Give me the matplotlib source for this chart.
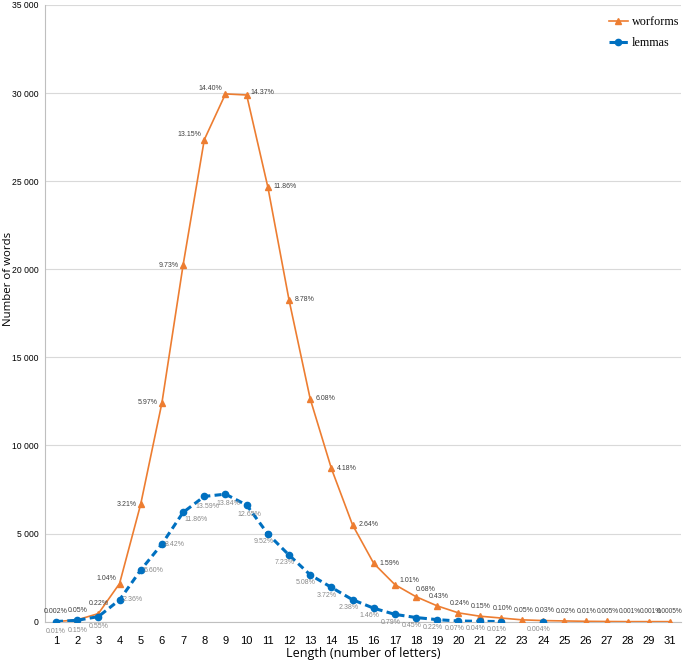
import numpy as np
import matplotlib
matplotlib.use('Agg')
from matplotlib import pyplot as plt
from matplotlib import font_manager

# Word length categories (no 30 in the source)
lengths = ['1', '2', '3', '4', '5', '6', '7', '8', '9', '10', '11', '12', '13', '14', '15',
           '16', '17', '18', '19', '20', '21', '22', '23', '24', '25', '26', '27', '28', '29', '31']

# Wordforms counts and their shares
wordforms = [4, 104, 458, 2163, 6677, 12418, 20238, 27352, 29952, 29890, 24669, 18262, 12646,
             8694, 5491, 3307, 2101, 1414, 894, 499, 312, 208, 104, 62, 42, 21, 10, 2, 2, 1]
wordforms_pct = ['0.002%', '0.05%', '0.22%', '1.04%', '3.21%', '5.97%', '9.73%', '13.15%', '14.40%',
                 '14.37%', '11.86%', '8.78%', '6.08%', '4.18%', '2.64%', '1.59%', '1.01%', '0.68%',
                 '0.43%', '0.24%', '0.15%', '0.10%', '0.05%', '0.03%', '0.02%', '0.01%', '0.005%',
                 '0.001%', '0.001%', '0.0005%']

# Lemmas counts (none of length 23 and beyond 24)
lemmas = [5, 78, 288, 1234, 2929, 4404, 6203, 7108, 7238, 6616, 4979, 3781, 2657, 1946, 1245,
          764, 413, 235, 115, 37, 21, 5, np.nan, 2]
lemmas_pct = ['0.01%', '0.15%', '0.55%', '2.36%', '5.60%', '8.42%', '11.86%', '13.59%', '13.84%',
              '12.65%', '9.52%', '7.23%', '5.08%', '3.72%', '2.38%', '1.46%', '0.79%', '0.45%',
              '0.22%', '0.07%', '0.04%', '0.01%', '', '0.004%']

orange = '#ED7D31'
blue = '#0070C0'

# pick a narrow sans if one is around
names = {f.name for f in font_manager.fontManager.ttflist}
narrow = ['Liberation Sans Narrow'] if 'Liberation Sans Narrow' in names else []
narrow += ['Liberation Sans', 'DejaVu Sans']

fig = plt.figure(figsize=(6.85, 6.61), dpi=100)
ax = fig.add_axes([0.0663, 0.0595, 0.9277, 0.933])

x = np.arange(len(lengths))
ax.plot(x, wordforms, color=orange, lw=1.2, marker='^', ms=5, label='worforms', zorder=3)
xl = np.arange(len(lemmas))
ax.plot(xl, lemmas, color=blue, lw=2.2, ls=(0, (2.3, 1.4)), marker='o', ms=4.5, label='lemmas', zorder=4)

# label placement for wordforms: (dx, dy) in points, alignment
def wf_offset(i):
    if i < 3:
        return (0, 7, 'center')
    if i == 3:
        return (-2, 4, 'right')
    if i < 7:
        return (-3, 0, 'right')
    if i < 9:
        return (-2, 4, 'right')
    if i == 9:
        return (3, 2, 'left')
    if i < 16:
        return (4, 0, 'left')
    if i == 16:
        return (3, 3, 'left')
    if i == 17:
        return (0, 5, 'left')
    if i == 29:
        return (-0.5, 7, 'center')
    return (1, 7, 'center')

for i, (v, t) in enumerate(zip(wordforms, wordforms_pct)):
    dx, dy, ha = wf_offset(i)
    size = 4.7 if i >= 26 else 5
    ax.annotate(t, (x[i], v), xytext=(dx, dy), textcoords='offset points', ha=ha, va='center',
                fontsize=size, color='#404040', family=narrow, zorder=5)

def lm_offset(i):
    if i < 3:
        return (0, -7, 'center')
    if i < 6:
        return (2, 0, 'left')
    if i == 6:
        return (1, -5, 'left')
    if i < 10:
        return (2, -7, 'center')
    return (-3, -5.5, 'center')

for i, (v, t) in enumerate(zip(lemmas, lemmas_pct)):
    if not t:
        continue
    dx, dy, ha = lm_offset(i)
    ax.annotate(t, (xl[i], v), xytext=(dx, dy), textcoords='offset points', ha=ha, va='center',
                fontsize=5, color='#8a8a8a', family=narrow, zorder=5)

ax.set_xlim(-0.5, len(lengths) - 0.5)
ax.set_ylim(0, 35000)
ax.set_xticks(x)
ax.set_xticklabels(lengths, fontsize=8, family=narrow)
yt = np.arange(0, 35001, 5000)
ax.set_yticks(yt)
ax.set_yticklabels(['0' if v == 0 else '{:,}'.format(v).replace(',', ' ') for v in yt],
                   fontsize=6.2, family=narrow)
ax.tick_params(axis='x', length=0, pad=10)
ax.tick_params(axis='y', length=0, pad=5)
ax.grid(axis='y', color='#d9d9d9', lw=0.8)
ax.set_axisbelow(True)
for s in ['top', 'right']:
    ax.spines[s].set_visible(False)
ax.spines['left'].set_color('#bfbfbf')
ax.spines['bottom'].set_color('#bfbfbf')

ax.set_xlabel('Length (number of letters)', fontsize=9, family='Open Sans', labelpad=1)
ax.set_ylabel('Number of words', fontsize=8.2, family='Open Sans')
ax.yaxis.set_label_coords(-0.05, 0.555)

ax.legend(loc='upper right', bbox_to_anchor=(1.005, 0.99), borderaxespad=0, frameon=False,
          prop={'family': 'Liberation Serif', 'size': 8.7}, handlelength=1.6,
          handletextpad=0.3, labelspacing=0.75)

fig.savefig('out.png', dpi=100)
